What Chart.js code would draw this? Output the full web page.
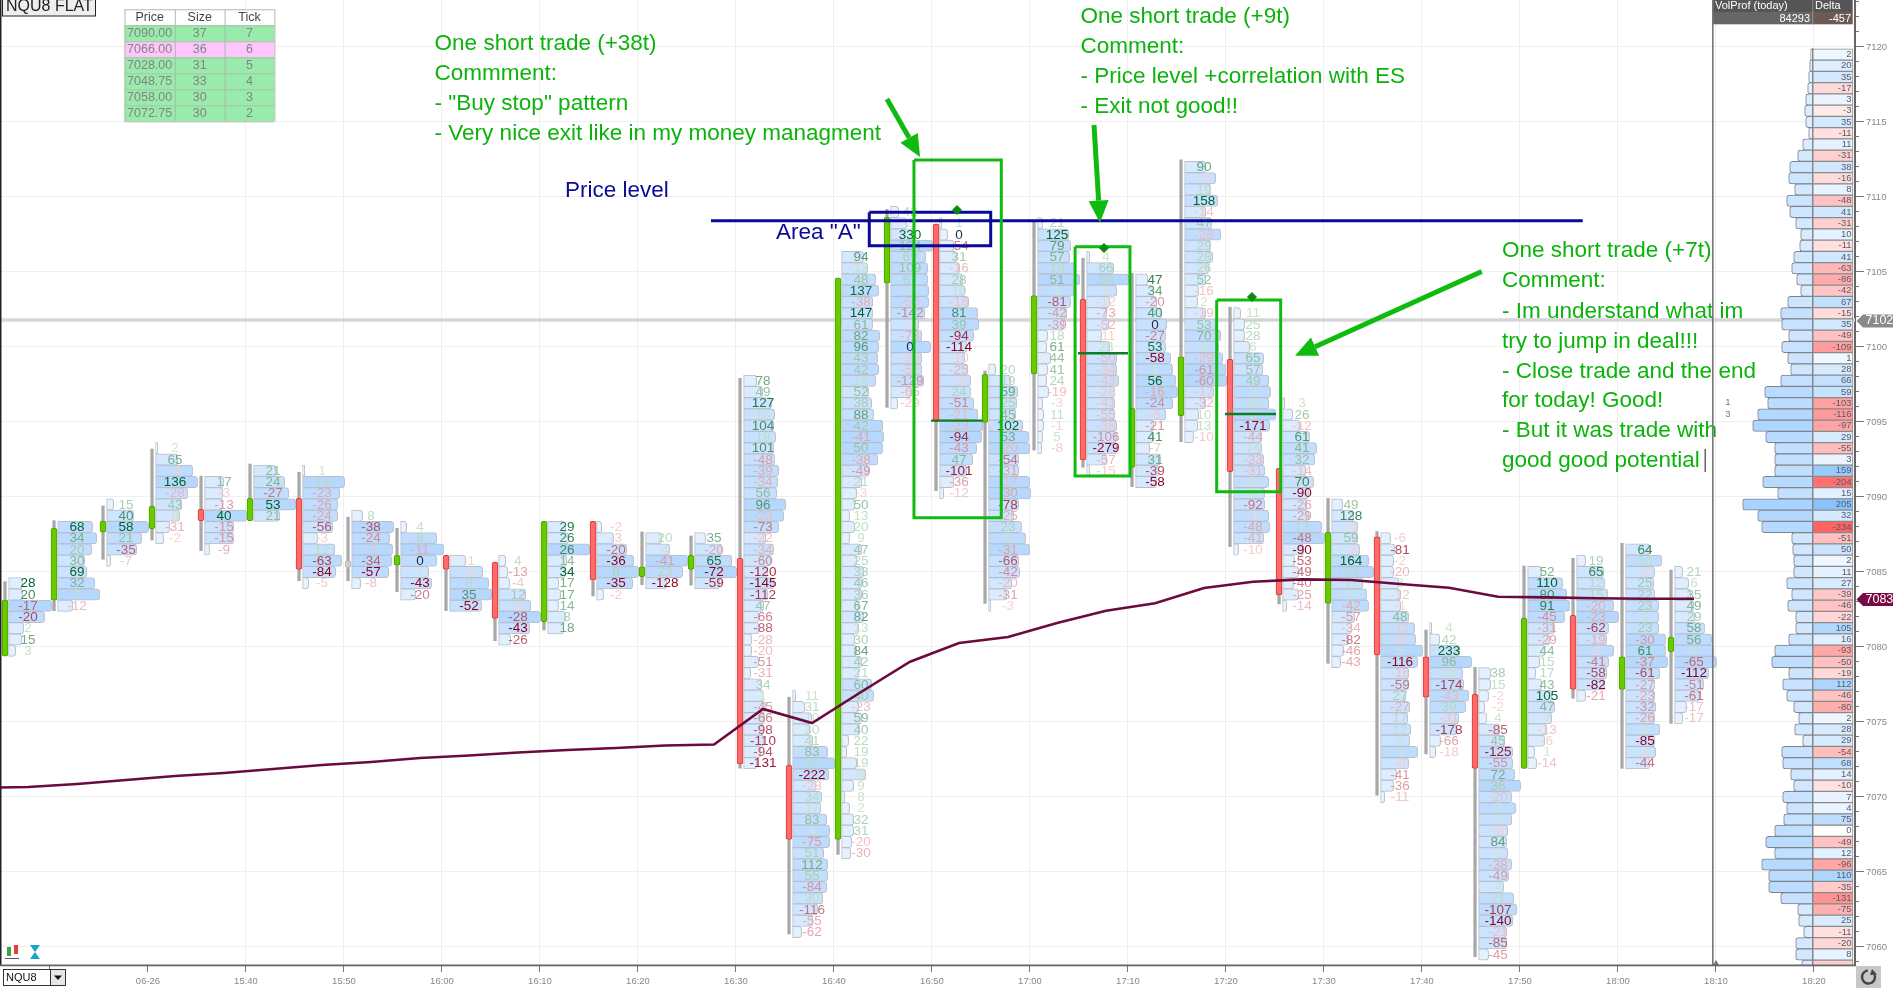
<!DOCTYPE html>
<html><head><meta charset="utf-8">
<style>html,body{margin:0;padding:0;background:#fff;overflow:hidden}canvas{display:block}</style>
<script src="https://cdn.jsdelivr.net/npm/chart.js@4/dist/chart.umd.min.js"></script>
</head><body><canvas id="c" width="1893" height="988" style="width:1893px;height:988px"></canvas>
<script>
// ---------- DATA ----------
const barTimes=[-15,-10,-5,0,5,10,15,20,25,30,35,40,45,50,55,60,65,70,75,80,85,90,95,100,105,110,115,120,125,130,135,140,145,150,155];
const opens =[7079.4,7083.13,7087.67,7087.89,7089.18,7088.42,7089.91,7085.75,7085.45,7086.11,7085.65,7081.69,7088.38,7084.69,7085.18,7085.91,7072.11,7067.18,7104.25,7108.2,7094.98,7098.2,7103.18,7091.98,7095.42,7099.18,7091.91,7082.91,7087.35,7079.35,7076.85,7071.91,7082.11,7077.18,7079.69];
const closes=[7083.13,7087.91,7088.4,7089.38,7088.42,7089.91,7085.18,7085.31,7086.11,7085.18,7081.91,7088.38,7084.47,7085.35,7086.11,7072.2,7067.18,7104.6,7108.65,7095.02,7098.18,7103.42,7092.47,7095.91,7099.35,7091.69,7083.47,7087.65,7079.47,7076.65,7071.91,7081.91,7077.18,7079.35,7080.65];
const highs =[7084.35,7088.42,7089.4,7093.2,7091.4,7092.2,7091.65,7088.65,7087.91,7086.11,7085.65,7088.38,7088.38,7087.67,7087.4,7097.91,7076.65,7104.6,7109.18,7108.2,7098.4,7108.35,7105.91,7104.91,7112.47,7102.65,7091.91,7089.91,7087.69,7081.13,7078.65,7085.4,7085.91,7086.91,7085.13];
const lows  =[7079.4,7082.42,7085.85,7087.13,7086.42,7088.42,7084.42,7084.42,7083.69,7082.42,7080.42,7081.13,7083.4,7084.15,7084.13,7071.93,7060.87,7066.18,7095.98,7090.42,7082.91,7093.13,7091.98,7090.69,7093.69,7086.69,7082.87,7078.91,7070.13,7072.87,7059.35,7071.91,7076.58,7071.91,7074.91];
const topPrices=[7084.25,7088,7089.5,7093.25,7091,7091.75,7091.75,7088.75,7088,7085.75,7085.75,7088,7088,7087.25,7087.25,7097.75,7076.75,7106,7109,7108.25,7098.5,7108.25,7106,7104.5,7112,7102.25,7096.25,7089.5,7087.25,7081.25,7078.25,7085,7085.75,7086.5,7085];
const rowStep=0.75;
const deltas=[
[28,20,-17,-20,2,15,3],
[68,34,20,30,69,32,7,-12],
[15,40,58,21,-35,-7],
[2,65,-4,136,-28,43,8,-31,-2],
[17,-3,-13,40,-15,-15,-9],
[21,24,-27,53,21],
[1,14,-23,-26,-24,-56,-3,12,-63,-84,-5],
[8,-38,-24,-7,-34,-57,-8],
[4,8,-11,0,1,-43,-20],
[-1,-2,8,35,-52],
[4,-13,-4,12,-2,-28,-43,-26],
[29,26,26,14,34,17,17,14,8,18],
[-2,-3,-20,-36,8,-35,-2],
[20,4,-41,23,-128],
[35,-20,65,-72,-59],
[78,49,127,10,104,19,101,-48,-39,-34,56,96,-23,-73,-22,-34,-60,-120,-145,-112,47,-66,-88,-28,-20,-51,-31,34,1,-45,-66,-98,-110,-94,-131],
[11,31,10,30,41,83,32,-222,-28,34,17,83,4,-75,51,112,55,-84,30,-116,-55,-62],
[94,12,48,137,-38,147,61,82,96,43,42,16,52,38,88,42,-41,50,-38,-49,21,-3,50,13,20,9,47,25,33,46,36,67,82,13,30,84,42,21,60,40,-23,59,40,22,19,19,5,9,8,2,32,31,-20,-30],
[42,2,330,124,69,109,67,9,-50,-142,-1,-73,0,-33,-52,-129,-65,-29],
[1,0,-54,31,-16,28,10,-16,81,39,-94,-114,-10,-25,-3,24,-51,-21,-23,-94,-43,47,-101,-36,-12],
[20,19,59,25,45,102,53,-20,-54,-31,-17,-30,-78,-25,23,6,-31,-66,-42,-20,-31,-3],
[21,125,79,57,18,51,1,-81,-42,-39,18,61,44,41,24,-19,-3,11,-1,5,-8],
[4,66,50,3,-12,-73,-52,-11,28,-50,-34,-43,-28,-41,-55,-38,-106,-279,-57,-15],
[47,34,-20,40,0,-27,53,-58,1,56,-16,-24,-5,-21,41,-7,31,-39,-58],
[90,-3,19,158,-14,47,-26,29,28,26,52,-16,2,-19,53,70,8,-29,-61,-60,-17,-32,10,13,-10],
[11,25,28,6,65,57,49,2,13,5,-171,-44,14,-33,-31,10,8,-92,-1,-48,-41,-10],
[3,26,-12,61,41,32,-14,70,-90,-26,-29,13,-48,-90,-53,-49,-40,-25,-14],
[49,128,-4,59,-3,164,24,17,5,-42,-57,-34,-82,-46,-43],
[-6,-81,-2,-20,3,-12,-1,48,-11,-9,5,-116,-16,-59,27,-27,17,12,7,6,-8,-41,-36,-11],
[4,42,233,96,16,-174,-43,39,-31,-178,-66,-18],
[38,15,-2,-2,4,-85,45,-125,-55,72,36,-20,3,3,-8,84,4,-38,-49,4,21,-107,-140,-21,-85,-45],
[52,110,80,91,-45,-31,-29,44,15,17,43,105,47,7,-13,-6,1,-14],
[19,65,12,15,-20,-23,-62,-19,-2,-41,-58,-82,-21],
[64,10,-2,25,22,23,4,23,-30,61,-37,-61,-27,-23,-32,-26,4,-85,-1,-44],
[21,6,35,49,29,58,56,8,-65,-112,-51,-61,-17,-17]
];
const volumes=[
[14,14,43,36,15,13,7],
[35,39,34,27,29,37,42,15],
[7,27,42,35,30,4],
[2,22,37,42,32,26,24,14,8],
[19,18,18,42,29,29,5],
[22,31,35,42,26],
[2,42,37,35,35,30,15,32,39,33,6],
[11,42,38,41,40,37,9],
[6,36,43,36,28,31,15],
[16,33,39,42,32],
[7,9,11,27,32,42,31,12],
[18,21,42,19,18,11,13,11,18,16],
[5,17,30,37,42,36,7],
[16,24,42,37,21],
[11,27,37,42,25],
[13,19,28,31,30,32,30,31,35,34,33,42,40,35,22,30,27,24,30,24,20,15,15,8,8,15,7,18,20,22,21,20,20,17,13],
[3,12,19,17,20,35,42,36,23,29,28,34,37,37,31,35,35,34,30,25,20,9],
[22,26,34,37,31,31,31,38,37,36,37,34,27,30,32,41,42,41,36,27,20,15,13,8,13,8,20,15,22,20,20,17,22,17,13,15,20,17,30,32,17,20,18,7,5,15,24,12,3,8,12,12,10,9],
[8,16,24,42,35,37,37,38,38,34,28,31,40,31,31,33,21,7],
[2,8,14,17,20,23,25,29,38,39,34,27,25,28,31,31,34,38,43,42,37,33,27,14,4],
[7,22,29,28,27,34,40,41,30,30,41,42,30,25,33,37,41,30,31,23,18,2],
[5,31,33,32,37,42,36,33,29,26,10,9,13,10,9,11,5,6,6,5,4],
[3,27,42,30,23,20,22,15,23,30,30,32,28,28,28,30,30,30,20,3],
[12,18,21,26,31,30,30,35,37,40,42,37,30,18,18,14,25,23,21],
[21,31,26,33,21,27,36,26,28,24,21,14,13,21,31,36,34,38,41,42,29,21,14,13,9],
[7,11,11,16,30,29,35,37,35,42,36,28,28,30,31,35,31,31,35,36,30,5],
[2,10,17,27,34,32,23,31,26,24,26,39,42,21,12,16,11,16,4],
[11,22,26,26,28,37,42,31,35,37,23,20,17,12,9],
[10,14,13,13,18,20,20,28,34,35,42,37,28,28,25,29,27,30,29,37,28,16,13,4],
[2,10,30,42,33,34,39,36,29,27,11,6],
[12,12,10,6,8,21,26,34,34,36,42,33,37,33,29,28,29,33,30,25,35,38,34,28,28,10],
[14,35,39,42,37,27,22,17,12,8,14,24,27,24,19,17,7,9],
[9,27,28,31,37,42,32,30,37,32,30,28,9],
[24,36,29,28,29,33,33,33,40,40,42,34,29,29,30,29,34,29,30,24],
[8,14,16,19,20,30,37,39,42,34,29,25,12,8]
];
const vwapTimes=[-17.6,-12.24,-7.24,-2.24,2.76,7.76,12.76,17.76,22.76,27.76,32.76,37.76,42.76,47.76,52.76,57.76,62.76,67.76,72.76,77.76,82.76,87.76,92.76,97.76,102.76,107.76,112.76,117.76,122.76,127.76,132.76,137.76,142.76,147.76,152.76,157.76];
const vwapValues=[7070.6,7070.67,7070.87,7071.13,7071.4,7071.6,7071.87,7072.13,7072.33,7072.6,7072.77,7072.97,7073.13,7073.27,7073.43,7073.5,7075.87,7074.93,7077,7079.02,7080.27,7080.67,7081.6,7082.42,7082.91,7083.93,7084.35,7084.51,7084.47,7084.2,7083.95,7083.35,7083.31,7083.25,7083.22,7083.22];
const profileTopPrice=7119.5;
const profileDelta=[2,20,35,-17,3,-3,35,-11,11,-31,38,-16,8,-48,41,-31,10,-11,41,-63,-86,-42,67,-15,35,-49,-109,1,28,66,59,-103,-116,-97,29,-55,3,159,-204,15,205,32,-234,-51,50,2,11,27,-39,-46,-22,105,16,-93,-50,-19,112,-46,-80,2,28,29,-54,68,14,-10,7,4,75,0,-49,12,-96,110,-35,-131,-75,25,-11,-20,8,-30];
const profileVol=[2,3,4,5,7,8,7,4,10,15,23,24,18,26,23,17,12,13,19,21,16,12,25,32,31,24,31,25,22,32,48,45,55,60,47,38,38,38,50,35,70,55,51,21,20,19,19,26,21,25,17,17,24,38,41,24,30,26,19,14,18,10,31,30,22,19,30,26,29,38,47,38,51,44,44,32,15,14,9,17,17,11];
const priceLevel=[[57.45,7108.42],[146.4,7108.42]];
const lastPriceBand=7101.8;
const greenBoxes=[[78.16,87.07,7112.47,7088.62],[94.6,100.2,7106.69,7091.4],[109.05,115.58,7103.13,7090.35]];
const blueBox=[73.6,85.99,7108.98,7106.75];
const arrows=[[75.4,7116.53,78.78,7112.67],[96.53,7114.8,97.14,7108.29],[136.1,7105.03,117.04,7099.42]];
const exits=[[79.9,85.2,7095.09],[94.9,100,7099.58],[109.9,115.1,7095.53]];
const entries=[[82.55,7109.13],[97.55,7106.6],[112.65,7103.33]];
const xTickLabels={0:'06-26',10:'15:40',20:'15:50',30:'16:00',40:'16:10',50:'16:20',60:'16:30',70:'16:40',80:'16:50',90:'17:00',100:'17:10',110:'17:20',120:'17:30',130:'17:40',140:'17:50',150:'18:00',160:'18:10',170:'18:20'};
const tableHead=['Price','Size','Tick'];
const tablePrices=['7090.00','7066.00','7028.00','7048.75','7058.00','7072.75'];
const tableSizes=[37,36,31,33,30,30];
const tableTicks=[7,6,5,4,3,2];
const notes1=['One short trade (+38t)','Commment:','- "Buy stop" pattern','- Very nice exit like in my money managment'];
const notes2=['One short trade (+9t)','Comment:','- Price level +correlation with ES','- Exit not good!!'];
const notes3=['One short trade (+7t)','Comment:','- Im understand what im','try to jump in deal!!!','- Close trade and the end','for today! Good!','- But it was trade with','good good potential'];

// ---------- LAYOUT / STYLE ----------
const PXMIN=9.8, BAR_SHIFT=0.41, CELL_SHIFT=3.6, TEXT_SHIFT=23, FF='"Liberation Sans",Arial,sans-serif';
const NOTE_GREEN='#0cb30c', NAVY='#0a0a96', BOX_GREEN='#10bb10';
const mix=(a,b,t)=>`rgb(${a.map((v,i)=>Math.round(v+(b[i]-v)*t)).join(',')})`;
const barT=i=>barTimes[i]+BAR_SHIFT;

// ---------- DATASET TABLES ----------
const wickData=barTimes.map((t,i)=>({x:barT(i),y:[lows[i],highs[i]]}));
const bodyData=barTimes.map((t,i)=>({x:barT(i),y:[opens[i],closes[i]]}));
const bodyFill=opens.map((o,i)=>{const d=closes[i]-o;return Math.abs(d)<0.5&&i===7?'#cfcfcf':d>0?'#66cc00':'#ff6a6a'});
const bodyEdge=opens.map((o,i)=>{const d=closes[i]-o;return Math.abs(d)<0.5&&i===7?'#bdbdbd':d>0?'#4f9f00':'#d83a3a'});
const cellData=[],cellFill=[];
deltas.forEach((col,i)=>col.forEach((d,r)=>{
  const x0=barT(i)+CELL_SHIFT/PXMIN, v=volumes[i][r];
  cellData.push({x:[x0,x0+v/PXMIN],y:topPrices[i]-r*rowStep});
  cellFill.push(mix([236,245,255],[182,216,255],Math.pow(v/42,1.3)));
}));
const PROF_RIGHT=(1812.7-148)/PXMIN, DELTA_RIGHT=(1853-148)/PXMIN;
const profData=profileVol.map((v,r)=>({x:[PROF_RIGHT-v/PXMIN,PROF_RIGHT],y:profileTopPrice-r*rowStep}));
const profFill=profileVol.map(v=>mix([232,243,255],[168,210,255],Math.pow(v/70,.8)));
const deltaData=profileDelta.map((d,r)=>({x:[PROF_RIGHT,DELTA_RIGHT],y:profileTopPrice-r*rowStep}));
const deltaFill=profileDelta.map(d=>d===0?'#ffffff':d>0?mix([242,248,255],[135,195,255],Math.pow(d/205,.7)):mix([255,240,240],[255,100,100],Math.pow(-d/234,.7)));
const rect=b=>[{x:b[0],y:b[2]},{x:b[1],y:b[2]},{x:b[1],y:b[3]},{x:b[0],y:b[3]},{x:b[0],y:b[2]}];

const lineBase={type:'line',pointRadius:0,tension:0,fill:false,borderJoinStyle:'miter'};
const barBase={type:'bar',grouped:false,borderSkipped:false};
const datasets=[
 {...lineBase,label:'last',data:[{x:-16,y:lastPriceBand},{x:175,y:lastPriceBand}],borderColor:'#d6d6d6',borderWidth:3.5,order:100},
 {...barBase,label:'cells',indexAxis:'y',data:cellData,backgroundColor:cellFill,borderColor:'#b9bec6',borderWidth:1,barThickness:11.25,borderRadius:{topRight:3,bottomRight:3},order:90},
 {...barBase,label:'wicks',data:wickData,backgroundColor:'#a8a8a8',barThickness:2.6,order:80},
 {...barBase,label:'bodies',data:bodyData,backgroundColor:bodyFill,borderColor:bodyEdge,borderWidth:1,barThickness:6,borderRadius:2,order:70},
 {...barBase,label:'profile',indexAxis:'y',data:profData,backgroundColor:profFill,borderColor:'#7f8288',borderWidth:1,barThickness:11.25,borderRadius:{topLeft:3,bottomLeft:3},order:60},
 {...barBase,label:'profileDelta',indexAxis:'y',data:deltaData,backgroundColor:deltaFill,borderColor:'#8a8a8a',borderWidth:1,barThickness:11.25,order:50},
 {...lineBase,label:'vwap',data:vwapTimes.map((t,i)=>({x:t,y:vwapValues[i]})),borderColor:'#6b0a3c',borderWidth:2.6,order:40},
 ...exits.map(e=>({...lineBase,label:'exit',data:[{x:e[0],y:e[2]},{x:e[1],y:e[2]}],borderColor:'#0c7d20',borderWidth:2.4,order:30})),
 {...lineBase,label:'level',data:priceLevel.map(p=>({x:p[0],y:p[1]})),borderColor:NAVY,borderWidth:3,order:20},
 {...lineBase,label:'areaA',data:rect(blueBox),borderColor:NAVY,borderWidth:3,order:15},
 ...greenBoxes.map(b=>({...lineBase,label:'trade',data:rect(b),borderColor:BOX_GREEN,borderWidth:3,order:14})),
 {type:'scatter',label:'entry',data:entries.map(e=>({x:e[0],y:e[1]})),pointStyle:'rectRot',pointRadius:4.5,backgroundColor:'#0a8a0a',borderColor:'#0a8a0a',order:10}
];
const BODY_INDEX=3, DELTA_INDEX=5;

// ---------- PLUGINS ----------
function text(c,s,x,y,font,color,align){c.font=font;c.fillStyle=color;c.textAlign=align||'left';c.textBaseline='middle';c.fillText(s,x,y);}
const footprintText={id:'footprintText',afterDatasetDraw(chart,args){
  const c=chart.ctx,X=chart.scales.x,Y=chart.scales.y;
  if(args.index===BODY_INDEX){
    c.save();
    deltas.forEach((col,i)=>{
      const mx=Math.max(...col.map(Math.abs))||1, px=X.getPixelForValue(barT(i))+TEXT_SHIFT;
      col.forEach((d,r)=>{
        const t=Math.pow(Math.abs(d)/mx,1.2), col2=d===0?'#1f2a44':d>0?mix([208,232,208],[0,100,45],t):mix([248,212,212],[140,0,30],t);
        text(c,String(d),px,Y.getPixelForValue(topPrices[i]-r*rowStep)+.5,'13.5px '+FF,col2,'center');
      });
    });
    c.restore();
  }
  if(args.index===DELTA_INDEX){
    c.save();
    profileDelta.forEach((d,r)=>{
      const y=Y.getPixelForValue(profileTopPrice-r*rowStep);
      if(y<963) text(c,String(d),1851.5,y,'9.5px '+FF,'#5b5b66','right');
    });
    c.restore();
  }
}};
const chrome={id:'chrome',afterDraw(chart){
  const c=chart.ctx,X=chart.scales.x,Y=chart.scales.y,px=t=>X.getPixelForValue(t),py=p=>Y.getPixelForValue(p);
  c.save();
  // arrows
  arrows.forEach(a=>{
    const x0=px(a[0]),y0=py(a[1]),x1=px(a[2]),y1=py(a[3]),ang=Math.atan2(y1-y0,x1-x0),hl=22,hw=10,bx=x1-hl*Math.cos(ang),by=y1-hl*Math.sin(ang),nx=-Math.sin(ang),ny=Math.cos(ang);
    c.strokeStyle=BOX_GREEN;c.fillStyle=BOX_GREEN;c.lineWidth=5;
    c.beginPath();c.moveTo(x0,y0);c.lineTo(bx,by);c.stroke();
    c.beginPath();c.moveTo(x1,y1);c.lineTo(bx+nx*hw,by+ny*hw);c.lineTo(bx-nx*hw,by-ny*hw);c.closePath();c.fill();
  });
  // notes
  const F='22.5px '+FF;
  [43.3,73.4,103.6,133.8].forEach((y,i)=>text(c,notes1[i],434.6,y,F,NOTE_GREEN));
  [16.7,46.9,77,107].forEach((y,i)=>text(c,notes2[i],1080.5,y,F,NOTE_GREEN));
  [251,281,311.3,341.5,371.6,400.6,431,461].forEach((y,i)=>text(c,notes3[i],1502,y,F,NOTE_GREEN));
  c.fillStyle='#666';c.fillRect(1704.5,449,1.5,23);
  text(c,'Price level',565,190.5,F,NAVY);
  text(c,'Area "A"',776,233,F,NAVY);
  // left border
  c.fillStyle='#222';c.fillRect(0,0,1.5,965);
  // top tag
  c.fillStyle='#eeeeee';c.fillRect(2,-1,93.6,17);c.strokeStyle='#222';c.lineWidth=1;c.strokeRect(2.5,-1,93,17);
  text(c,'NQU8 FLAT',6,7,'16px '+FF,'#222');
  // table
  const tx=[124.5,174.8,224.6,274.4],ty=9.3,rh=16;
  c.fillStyle='#fff';c.fillRect(tx[0],ty,tx[3]-tx[0],rh);
  tableHead.forEach((h,i)=>text(c,h,(tx[i]+tx[i+1])/2,ty+rh/2,'12.5px '+FF,'#444','center'));
  tablePrices.forEach((p,r)=>{
    const y=ty+rh*(r+1);
    c.fillStyle=r===1?'#fdc6fd':'#98ebab';c.fillRect(tx[0],y,tx[3]-tx[0],rh);
    text(c,p,(tx[0]+tx[1])/2,y+rh/2,'12.5px '+FF,'#848484','center');
    text(c,String(tableSizes[r]),(tx[1]+tx[2])/2,y+rh/2,'12.5px '+FF,'#848484','center');
    text(c,String(tableTicks[r]),(tx[2]+tx[3])/2,y+rh/2,'12.5px '+FF,'#848484','center');
  });
  c.strokeStyle='#a8bdaa';c.lineWidth=1;
  for(let r=0;r<=7;r++){c.beginPath();c.moveTo(tx[0],ty+rh*r+.5);c.lineTo(tx[3],ty+rh*r+.5);c.stroke();}
  tx.forEach(x=>{c.beginPath();c.moveTo(x+.5,ty);c.lineTo(x+.5,ty+rh*7);c.stroke();});
  // right panel
  c.fillStyle='#555';c.fillRect(1712.7,0,140,12);
  c.fillStyle='#666';c.fillRect(1712.7,12,100,12.3);
  c.fillStyle='#6e5a55';c.fillRect(1812.7,12,40,12.3);
  c.fillStyle='#8a8a8a';c.fillRect(1812.2,0,1,24.5);
  text(c,'VolProf (today)',1715,6,'11px '+FF,'#fff');
  text(c,'Delta',1815,6,'11px '+FF,'#fff');
  text(c,'84293',1810,18.5,'11px '+FF,'#fff','right');
  text(c,'-457',1851,18.5,'11px '+FF,'#fff','right');
  c.fillStyle='#777';c.fillRect(1712,0,1.6,965);
  c.fillStyle='#888';c.fillRect(1812.2,48,1,917);
  c.fillStyle='#777';c.beginPath();c.moveTo(1716,960);c.lineTo(1713,965);c.lineTo(1719,965);c.closePath();c.fill();
  text(c,'1',1728,402.7,'9.5px '+FF,'#777','center');
  text(c,'3',1728,414.5,'9.5px '+FF,'#777','center');
  // axis badges
  const badge=(y,s,bg)=>{c.fillStyle=bg;c.beginPath();c.moveTo(1856.5,y);c.lineTo(1863,y-6.5);c.lineTo(1893,y-6.5);c.lineTo(1893,y+6.5);c.lineTo(1863,y+6.5);c.closePath();c.fill();text(c,s,1865.5,y,'12.5px '+FF,'#fff');};
  badge(321,'7102.','#8a8a8a');
  badge(599.5,'7083.','#7a0a45');
  // x axis line
  c.fillStyle='#666';c.fillRect(0,964.5,1856,1.8);
  // dropdown
  c.fillStyle='#fff';c.fillRect(3.5,969.5,62,16);c.strokeStyle='#333';c.lineWidth=1;c.strokeRect(3.5,969.5,62,16);
  text(c,'NQU8',6,978,'11px '+FF,'#111');
  c.fillStyle='#e6e6e6';c.fillRect(51,970,14,15);c.strokeRect(50.5,969.5,15,16);
  c.fillStyle='#111';c.beginPath();c.moveTo(54,975.5);c.lineTo(62,975.5);c.lineTo(58,980);c.closePath();c.fill();
  // bottom-left tool icons
  c.fillStyle='#3aa53a';c.fillRect(7,947,4,9);c.fillStyle='#e04040';c.fillRect(14,945,4,9);
  c.strokeStyle='#555';c.beginPath();c.moveTo(5,958.5);c.lineTo(19,958.5);c.stroke();
  c.fillStyle='#18a4c4';c.beginPath();c.moveTo(30,945);c.lineTo(40,945);c.lineTo(35,952);c.lineTo(40,959);c.lineTo(30,959);c.lineTo(35,952);c.closePath();c.fill();
  // refresh button
  c.fillStyle='#c8c8c8';c.fillRect(1856,966,25,22);
  c.strokeStyle='#444';c.lineWidth=2.4;c.beginPath();c.arc(1868.5,977,6.5,-0.4,4.6);c.stroke();
  c.fillStyle='#444';c.beginPath();c.moveTo(1872,969);c.lineTo(1877,974.5);c.lineTo(1870,975);c.closePath();c.fill();
  c.restore();
}};

// ---------- CHART ----------
Chart.defaults.font.family=FF;
new Chart(document.getElementById('c'),{
  type:'bar',
  data:{datasets},
  plugins:[footprintText,chrome],
  options:{
    responsive:false,animation:false,
    devicePixelRatio:1,
    layout:{padding:0,autoPadding:false},
    plugins:{legend:{display:false},tooltip:{enabled:false}},
    scales:{
      x:{type:'linear',offset:false,beginAtZero:false,min:-15.102,max:174.184,
        afterFit:s=>{s.height=23;s.paddingLeft=0;s.paddingRight=0},
        border:{display:false},
        grid:{offset:false,color:c=>c.tick&&c.tick.value>0?'#efefef':'rgba(0,0,0,0)',tickColor:'#777',tickLength:7,lineWidth:1},
        ticks:{stepSize:10,includeBounds:false,autoSkip:false,maxRotation:0,padding:4,color:'#888',font:{size:9.5,family:FF},
          callback:v=>xTickLabels[v]||''}},
      y:{type:'linear',position:'right',offset:false,beginAtZero:false,min:7058.8,max:7123.133,
        afterFit:s=>{s.width=38;s.paddingTop=0;s.paddingBottom=0},
        border:{color:'#666',width:2},
        grid:{offset:false,color:c=>c.tick&&c.tick.value%5===0?'#efefef':'rgba(0,0,0,0)',tickColor:'#777',tickLength:9,lineWidth:1,
          tickBorderDash:c=>c.tick&&c.tick.value%5===0?[]:[3,20]},
        ticks:{stepSize:1,includeBounds:false,autoSkip:false,maxRotation:0,padding:2,color:'#888',font:{size:9.5,family:FF},
          callback:v=>v%5===0?String(v):''}}
    }
  }
});
</script></body></html>
